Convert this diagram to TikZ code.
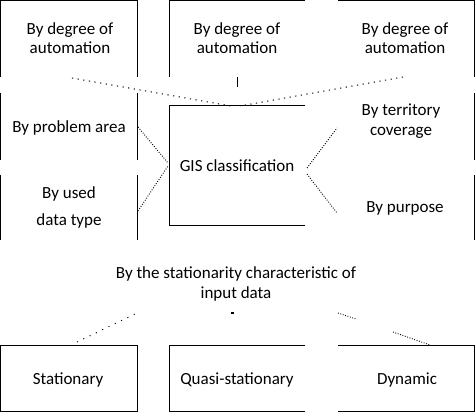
\documentclass[tikz,border=0pt]{standalone}
\usepackage{fontspec}
\setmainfont{Carlito}
\begin{document}
\begin{tikzpicture}[x=1pt,y=-1pt,
  lbl/.style={font=\fontsize{17}{19.5}\selectfont, align=center, inner sep=0pt},
  frame/.style={line width=1pt, black},
  sparse/.style={line width=1pt, dash pattern=on 1.2pt off 4.5pt},
  fine/.style={line width=0.9pt, dash pattern=on 0.9pt off 1.6pt}]
\useasboundingbox (0,0) rectangle (475,412);
% texts
\node[lbl] (tl) at (70,38) {By degree of\\automation};
\node[lbl] (tm) at (237,38) {By degree of\\automation};
\node[lbl] (tr) at (405,38) {By degree of\\automation};
\node[lbl] (pa) at (69,128) {By problem area};
\node[lbl,font=\fontsize{17}{27}\selectfont] (dt) at (69,207) {By used\\data type};
\node[lbl] (gis) at (237,166) {GIS classification};
\node[lbl] (tc) at (401,121) {By territory\\coverage};
\node[lbl] (pu) at (405,208) {By purpose};
\node[lbl] (st) at (236,284) {By the stationarity characteristic of\\input data};
\node[lbl] (s1) at (68,380) {Stationary};
\node[lbl] (s2) at (237,380) {Quasi-stationary};
\node[lbl] (s3) at (407,380) {Dynamic};
% partial frames
\draw[frame] (0.5,77) -- (0.5,0.5) -- (137,0.5) -- (137,77);
\draw[frame] (169,77) -- (169,0.5) -- (305,0.5);
\draw[frame] (338,0.5) -- (474.5,0.5) -- (474.5,77);
\draw[frame] (0.5,93) -- (0.5,160) (137,93) -- (137,160);
\draw[frame] (0.5,175) -- (0.5,240) (137,175) -- (137,240);
\draw[frame] (305,106) -- (169,106) -- (169,226) -- (305,226);
\draw[frame] (474.5,93) -- (474.5,160) (474.5,175) -- (474.5,240);
\draw[frame] (0.5,345) rectangle (137,411.5);
\draw[frame] (305,345) -- (169,345) -- (169,411.5) -- (305,411.5);
\draw[frame] (338,345) -- (474.5,345) -- (474.5,411.5) -- (338,411.5);
% connector coordinates
\coordinate (a1) at (72,78);
\coordinate (a2) at (231,106);
\coordinate (b1) at (403,77);
\coordinate (b2) at (240,106);
\coordinate (m1) at (237,77);
\coordinate (m2) at (237,87);
\coordinate (p1) at (138,127);
\coordinate (p2) at (168,163);
\coordinate (d1) at (138,211);
\coordinate (d2) at (168,166);
\coordinate (g1) at (307,168);
\coordinate (g2) at (337,128);
\coordinate (g3) at (307,174);
\coordinate (g4) at (337,213);
\coordinate (q1) at (77,342);
\coordinate (q2) at (137,313);
\coordinate (r1) at (338,313);
\coordinate (r2) at (356,319);
\coordinate (r3) at (393,332);
\coordinate (r4) at (430,345);
\coordinate (u1) at (231,313);
\coordinate (u2) at (234,313);
% connectors
\draw[sparse] (a1) -- (a2);
\draw[sparse] (b1) -- (b2);
\draw[line width=1pt] (m1) -- (m2);
\draw[fine] (p1) -- (p2);
\draw[fine] (d1) -- (d2);
\draw[fine] (g1) -- (g2);
\draw[fine] (g3) -- (g4);
\draw[sparse, dash pattern=on 1pt off 6pt] (q1) -- (q2);
\draw[fine] (r1) -- (r2);
\draw[fine] (r3) -- (r4);
\draw[line width=1pt] (u1) -- (u2);
\end{tikzpicture}
\end{document}
